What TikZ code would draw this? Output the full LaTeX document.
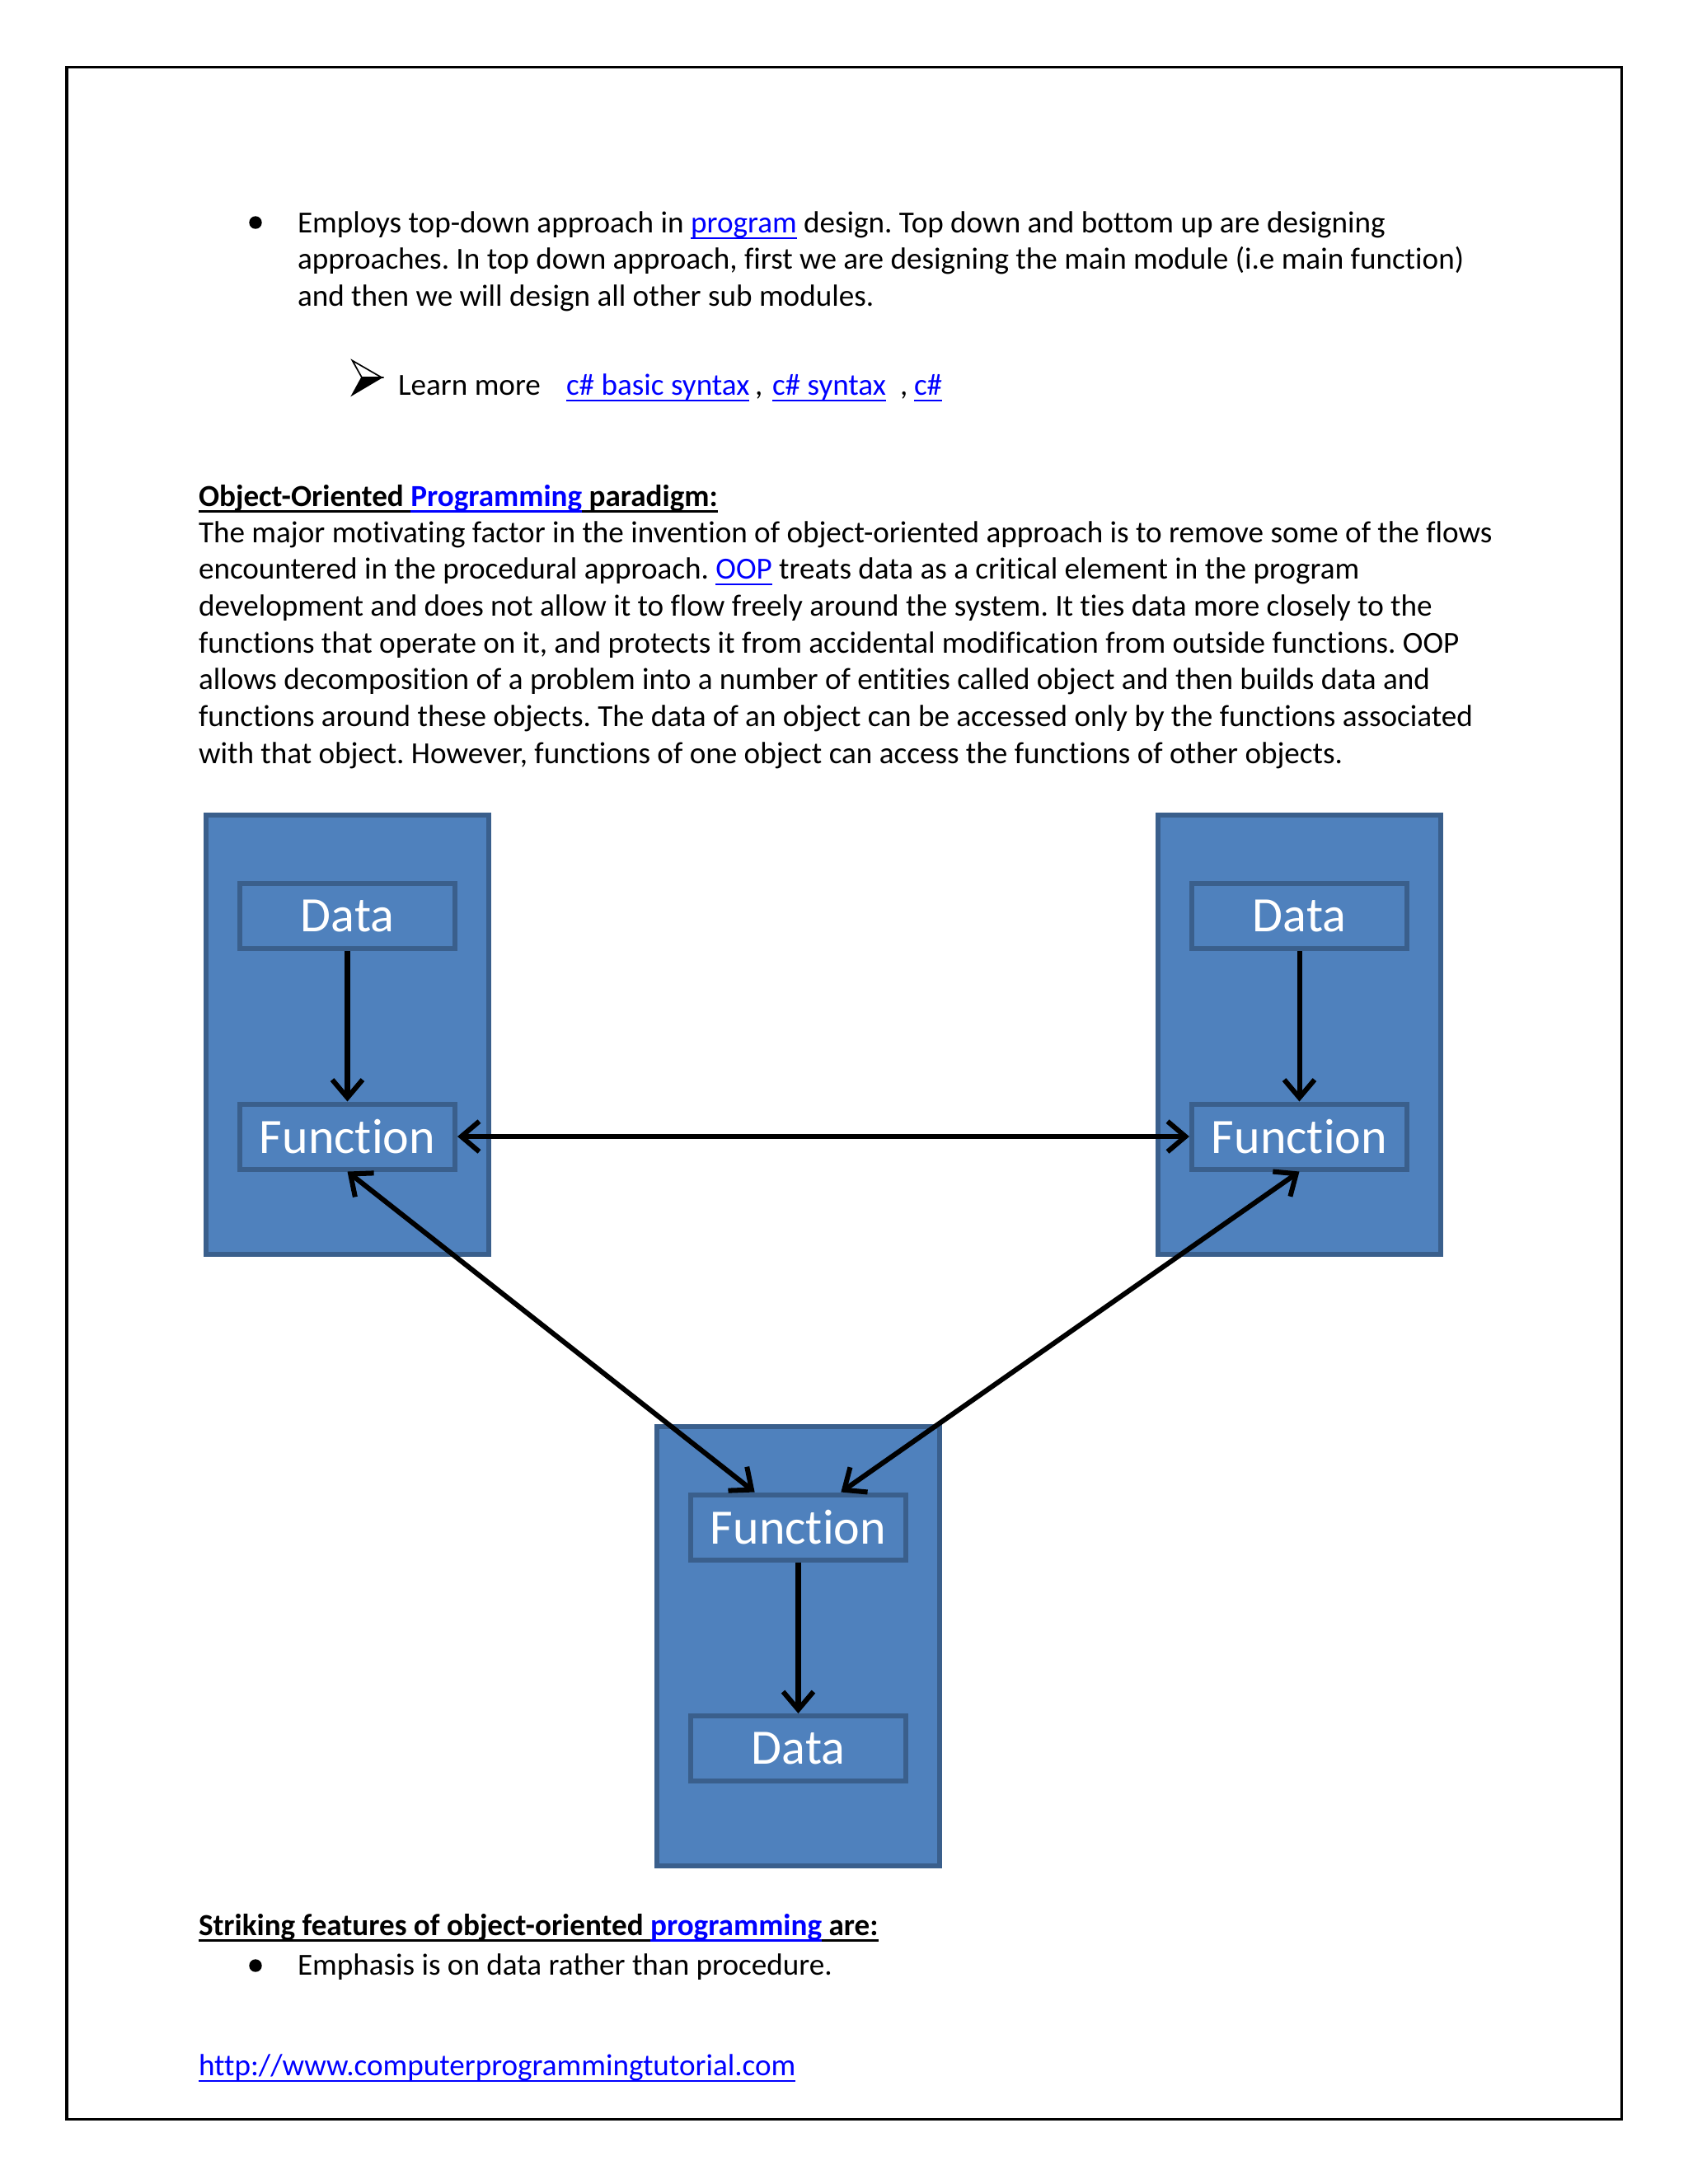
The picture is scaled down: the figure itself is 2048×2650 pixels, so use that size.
\documentclass[tikz,border=0pt]{standalone}
\usepackage{fontspec}
\setmainfont{Carlito}[Ligatures=NoCommon]
\usetikzlibrary{arrows.meta}
\definecolor{linkblue}{HTML}{0000FF}
\definecolor{objfill}{HTML}{4F81BD}
\definecolor{objline}{HTML}{3A5F8C}
% underline at a fixed depth, as a word processor does
\newcommand{\ulbox}[2][0.6bp]{\setbox0=\hbox{#2}\rlap{\rule[-2.3bp]{\wd0}{#1}}\box0}
\newcommand{\weblink}[1]{\textcolor{linkblue}{\ulbox{#1}}}
\frenchspacing
\tikzset{
    txt/.style={
        anchor=base west,
        inner sep=0pt,
        outer sep=0pt,
        font=\fontsize{11.14pt}{13.4pt}\selectfont
    },
    dot/.style={
        circle,
        fill=black,
        inner sep=0pt,
        minimum size=4.6bp
    },
    objbox/.style={
        rectangle,
        draw=objline,
        line width=1.8bp,
        fill=objfill,
        minimum width=102.5bp,
        minimum height=159.3bp
    },
    part/.style={
        rectangle,
        draw=objline,
        line width=1.8bp,
        fill=objfill,
        minimum width=78bp,
        minimum height=23.6bp,
        inner sep=0pt,
        text=white,
        font=\fontsize{18pt}{20pt}\selectfont
    },
    arrow/.style={
        -{Straight Barb[length=6.5bp,width=11bp]},
        line width=1.8bp
    },
    dblarrow/.style={
        {Straight Barb[length=6.5bp,width=11bp]}-{Straight Barb[length=6.5bp,width=11bp]},
        line width=1.8bp
    }
}
\begin{document}
\begin{tikzpicture}[x=0.2988bp, y=-0.2988bp]

    % Page
    \fill[white] (0,0) rectangle (2048,2650);
    \useasboundingbox (0,0) rectangle (2048,2650);
    \draw[line width=0.9bp] (81,81) rectangle (1967,2571);

    % First bullet
    \node[dot] (bul1) at (310,270) {};
    \node[txt] (l1) at (361,282) {Employs top-down approach in \weblink{program} design. Top down and bottom up are designing};
    \node[txt] (l2) at (361,326.7) {approaches. In top down approach, first we are designing the main module (i.e main function)};
    \node[txt] (l3) at (361,371.4) {and then we will design all other sub modules.};

    % Learn more
    \filldraw[black, line width=0.5bp, line join=miter] (439,458) -- (463,458) -- (427.5,479) -- cycle;
    \draw[black, line width=0.5bp, line join=miter] (427.5,437.5) -- (463,458) -- (439,458) -- cycle;
    \node[txt] (learn) at (483,479) {Learn more};
    \node[txt] (lk1) at (687,479) {\weblink{c\# basic syntax}};
    \node[txt] (cm1) at (916,479) {,};
    \node[txt] (lk2) at (937,479) {\weblink{c\# syntax}};
    \node[txt] (cm2) at (1092,479) {,};
    \node[txt] (lk3) at (1109,479) {\weblink{c\#}};

    % Object-oriented paradigm
    \node[txt] (head1) at (241,614) {\bfseries\ulbox[0.9bp]{Object-Oriented\ }\textcolor{linkblue}{\ulbox[0.9bp]{Programming}}\ulbox[0.9bp]{\ paradigm:}};
    \node[txt] (p1) at (241,658) {The major motivating factor in the invention of object-oriented approach is to remove some of the flows};
    \node[txt] (p2) at (241,702.7) {encountered in the procedural approach. \weblink{OOP} treats data as a critical element in the program};
    \node[txt] (p3) at (241,747.4) {development and does not allow it to flow freely around the system. It ties data more closely to the};
    \node[txt] (p4) at (241,792.1) {functions that operate on it, and protects it from accidental modification from outside functions. OOP};
    \node[txt] (p5) at (241,836.8) {allows decomposition of a problem into a number of entities called object and then builds data and};
    \node[txt] (p6) at (241,881.5) {functions around these objects. The data of an object can be accessed only by the functions associated};
    \node[txt] (p7) at (241,926.2) {with that object. However, functions of one object can access the functions of other objects.};

    % Objects
    \node[objbox] (lobj) at (421.5,1255.5) {};
    \node[part] (ldata) at (421.5,1111.5) {Data};
    \node[part] (lfun) at (421.5,1379) {Function};

    \node[objbox] (robj) at (1576.5,1255.5) {};
    \node[part] (rdata) at (1576.5,1111.5) {Data};
    \node[part] (rfun) at (1576.5,1379) {Function};

    \node[objbox] (bobj) at (968.5,1997.5) {};
    \node[part] (bfun) at (968.5,1853) {Function};
    \node[part] (bdata) at (968.5,2121.5) {Data};

    % Connections
    \draw[arrow] (ldata) -- (lfun);
    \draw[arrow] (rdata) -- (rfun);
    \draw[arrow] (bfun) -- (bdata);
    \draw[dblarrow] (lfun) -- (rfun);
    \draw[dblarrow] (lfun.south) -- ([xshift=-15.8bp]bfun.north);
    \draw[dblarrow] (rfun.south) -- ([xshift=15.5bp]bfun.north);

    % Striking features
    \node[txt] (head2) at (241,2348) {\bfseries\ulbox[0.9bp]{Striking features of object-oriented\ }\textcolor{linkblue}{\ulbox[0.9bp]{programming}}\ulbox[0.9bp]{\ are:}};
    \node[dot] (bul2) at (310,2385) {};
    \node[txt] (emph) at (361,2396) {Emphasis is on data rather than procedure.};

    % Site
    \node[txt] (site) at (241,2518) {\weblink{http://www.computerprogrammingtutorial.com}};

\end{tikzpicture}
\end{document}
